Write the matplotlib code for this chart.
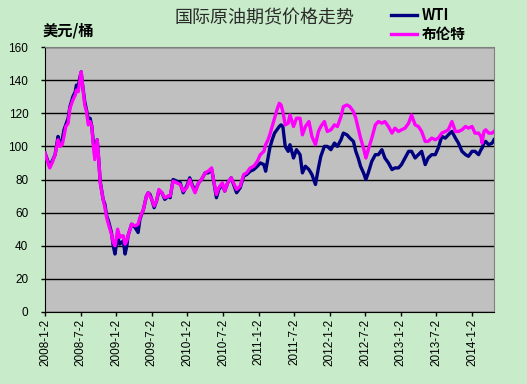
import matplotlib
matplotlib.use('Agg')
import matplotlib.pyplot as plt

plt.rcParams['font.family'] = ['Liberation Sans', 'Noto Sans CJK SC', 'DejaVu Sans']

# x = months since 2008-01-02 (trading-day axis)
months = [0.0, 0.4, 0.8, 1.2, 1.7, 2.2, 2.5, 2.9, 3.2, 3.5, 3.9, 4.2, 4.7, 5.1, 5.3, 5.6, 5.9, 6.1, 6.3, 6.7,
          7.0, 7.3, 7.6, 7.9, 8.1, 8.4, 8.8, 9.1, 9.3, 9.8, 10.1, 10.4, 10.7, 11.2, 11.5, 11.8, 12.0, 12.25, 12.6, 12.9,
          13.2, 13.5, 13.8, 14.0, 14.6, 15.2, 15.7, 16.0, 16.6, 17.1, 17.4, 17.7, 18.0, 18.4, 18.8, 19.2, 19.7, 20.2, 20.8, 21.1,
          21.6, 22.2, 22.8, 23.3, 23.9, 24.4, 24.8, 25.3, 25.9, 26.4, 27.0, 27.5, 28.1, 28.4, 28.9, 29.3, 29.9, 30.3, 30.8, 31.4,
          31.9, 32.3, 32.9, 33.5, 34.0, 34.6, 35.2, 35.8, 36.3, 36.9, 37.2, 37.6, 37.9, 38.3, 38.7, 39.1, 39.5, 39.8, 40.1, 40.5,
          41.0, 41.3, 41.9, 42.4, 43.0, 43.4, 43.9, 44.5, 45.0, 45.6, 46.1, 46.5, 47.1, 47.6, 48.2, 48.8, 49.3, 49.9, 50.3, 50.9,
          51.4, 52.0, 52.4, 52.8, 53.2, 53.7, 54.1, 54.5, 55.1, 55.7, 56.2, 56.8, 57.3, 57.9, 58.5, 59.0, 59.6, 60.1, 60.7, 61.3,
          61.8, 62.4, 62.95, 63.5, 64.1, 64.6, 65.2, 65.8, 66.3, 66.9, 67.5, 68.0, 68.6, 69.2, 69.7, 70.3, 70.9, 71.4, 72.0, 72.5,
          73.1, 73.5, 73.7, 74.0, 74.3, 74.8, 75.4, 75.7]

wti = [96, 92, 88, 91, 95, 106, 101, 104, 110, 113, 117, 124, 130, 133, 137, 136, 142, 145, 138, 127,
       122, 116, 117, 112, 104, 95, 104, 90, 79, 68, 65, 58, 55, 48, 40, 35, 40, 45, 41, 42,
       43, 35, 40, 46, 53, 51, 48, 56, 62, 70, 72, 71, 68, 63, 67, 73, 72, 68, 70, 69,
       80, 79, 78, 72, 76, 81, 77, 73, 78, 80, 84, 84, 86, 80, 69, 74, 77, 73, 78, 81,
       76, 72, 75, 82, 83, 85, 86, 88, 90, 89, 85, 93, 99, 104, 108, 110, 112, 113, 112, 100,
       97, 101, 93, 98, 95, 84, 88, 86, 83, 77, 87, 94, 100, 100, 98, 102, 100, 104, 108, 107,
       105, 103, 97, 93, 88, 84, 80, 84, 91, 95, 95, 98, 93, 90, 86, 87, 87, 89, 93, 97,
       97, 93, 95, 97, 89, 93, 95, 95, 99, 106, 105, 107, 109, 105, 102, 97, 95, 94, 97, 97,
       95, 98, 99, 102, 103, 101, 102, 104]

brent = [96, 91, 87, 90, 95, 104, 100, 101, 106, 112, 114, 123, 128, 131, 134, 133, 140, 145, 138, 125,
         121, 113, 115, 112, 102, 92, 104, 90, 78, 68, 63, 57, 53, 47, 42, 40, 44, 50, 45, 46,
         46, 41, 43, 46, 53, 52, 53, 57, 62, 70, 72, 70, 68, 64, 67, 74, 72, 69, 70, 70,
         79, 78, 77, 73, 75, 80, 76, 72, 78, 80, 84, 85, 87, 80, 71, 75, 78, 73, 78, 81,
         77, 74, 76, 83, 84, 87, 88, 91, 95, 97, 101, 104, 107, 112, 117, 122, 126, 125, 121, 113,
         114, 119, 112, 117, 117, 107, 112, 115, 106, 101, 109, 112, 115, 109, 110, 113, 112, 118, 124, 125,
         124, 121, 117, 111, 105, 99, 93, 98, 105, 113, 115, 114, 115, 112, 108, 111, 109, 110, 111, 114,
         119, 113, 112, 109, 103, 103, 105, 104, 105, 108, 109, 110, 115, 109, 109, 110, 112, 111, 112, 108,
         108, 106, 102, 109, 110, 108, 108, 109]

tick_pos = [0, 6, 12, 18, 24, 30, 36, 42, 48, 54, 60, 66, 72]
tick_labels = ['2008-1-2', '2008-7-2', '2009-1-2', '2009-7-2', '2010-1-2', '2010-7-2', '2011-1-2',
               '2011-7-2', '2012-1-2', '2012-7-2', '2013-1-2', '2013-7-2', '2014-1-2']

bg = '#c8ecca'
fig = plt.figure(figsize=(5.27, 3.84), dpi=100, facecolor=bg)
ax = fig.add_axes([45 / 527, 72 / 384, 449 / 527, 265 / 384])
ax.set_facecolor('#c0c0c0')

ax.plot(months, wti, color='#000080', lw=2.4, label='WTI', zorder=3)
ax.plot(months, brent, color='#ff00ff', lw=2.4, label='布伦特', zorder=4)

ax.set_xlim(0, 75.7)
ax.set_ylim(0, 160)
ax.set_yticks(range(0, 161, 20))
ax.set_xticks(tick_pos)
ax.set_xticklabels(tick_labels, rotation=90)
ax.tick_params(axis='both', direction='out', length=3, width=1, labelsize=8.5, color='black', pad=2)
ax.tick_params(axis='y', pad=9)
ax.grid(axis='y', color='black', lw=1)
ax.set_axisbelow(True)

for s in ['top', 'right']:
    ax.spines[s].set_color('#808080')
for s in ['left', 'bottom']:
    ax.spines[s].set_color('black')

cjk = ['Noto Sans CJK SC', 'DejaVu Sans']
fig.text(265 / 527, 1 - 18 / 384, '国际原油期货价格走势', ha='center', va='center', fontsize=13,
         family=cjk, fontweight='medium', color='#2a2a2a')
fig.text(43 / 527, 1 - 30 / 384, '美元/桶', ha='left', va='center', fontsize=11,
         family=cjk, fontweight='bold')

leg = fig.legend(loc='upper left', bbox_to_anchor=(378 / 527, 1 + 6 / 384), frameon=False,
                 handlelength=1.8, handletextpad=0.3, labelspacing=0.2,
                 prop={'family': cjk, 'weight': 'bold', 'size': 10.5})

fig.savefig('out.png', dpi=100, facecolor=bg)
